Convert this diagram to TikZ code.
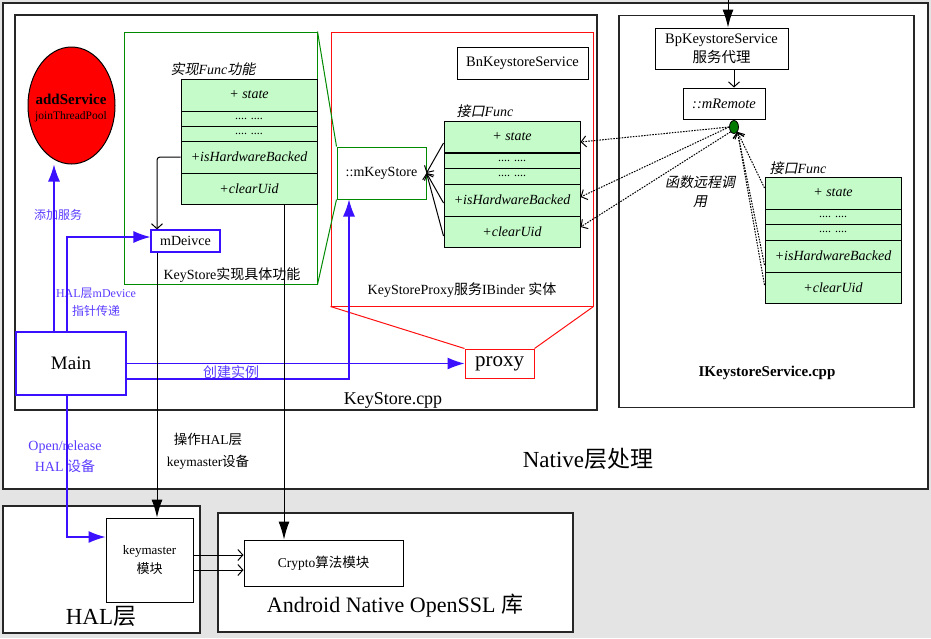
\documentclass[tikz,border=0pt]{standalone}
\usepackage{fontspec}
\setmainfont{Liberation Serif}
\newfontfamily\cjk{Noto Sans CJK SC}
\newfontfamily\cjkit[FakeSlant=0.2]{Noto Sans CJK SC}
\usetikzlibrary{arrows.meta,shapes.geometric}
\definecolor{bgray}{HTML}{E4E4E4}
\definecolor{tgreen}{HTML}{C4FBC8}
\definecolor{kgreen}{HTML}{008A00}
\definecolor{dgreen}{HTML}{007A00}
\definecolor{hblue}{HTML}{3A10FF}
\definecolor{tblue}{HTML}{5A3CFF}
\definecolor{rred}{HTML}{FF1010}
\newcommand{\fsz}[2]{\fontsize{#1}{#2}\selectfont}
\newcommand{\zhc}[1]{{\cjk #1}}
\newcommand{\zhi}[1]{{\cjkit #1}}
\begin{document}
\begin{tikzpicture}[x=1pt,y=-1pt,
  region/.style={draw=black!85, line width=1.2pt, fill=white, inner sep=0pt},
  box/.style={draw=black, line width=1pt, fill=white, inner sep=0pt},
  row/.style={draw=black, line width=1pt, fill=tgreen, inner sep=0pt, minimum width=136pt, font=\fsz{14}{16}\itshape},
  drow/.style={row, font=\fsz{12}{12}},
  lbl/.style={inner sep=0pt, align=center},
  blbl/.style={lbl, text=tblue},
  bline/.style={draw=hblue, line width=1.2pt},
  barrow/.style={bline, -{Latex[length=17pt,width=12pt]}},
  karrow/.style={draw=black, line width=1pt, -{Latex[length=18pt,width=11pt]}},
  oarrow/.style={draw=black, line width=1pt, -{Straight Barb[length=5pt,width=11pt]}},
  darrow/.style={draw=black, line width=1pt, dash pattern=on 1.6pt off 1.2pt, -{Straight Barb[length=5pt,width=11pt]}}
]
\useasboundingbox (0,0) rectangle (931,638);
\fill[bgray] (0,0) rectangle (931,638);

% region boxes
\node[region, minimum width=925pt, minimum height=486pt] (native) at (465.5,246) {};
\node[region, minimum width=582pt, minimum height=395pt] (kscpp) at (306,212.5) {};
\node[region, minimum width=295pt, minimum height=392pt] (iks) at (766.5,211.5) {};
\node[region, minimum width=197pt, minimum height=127pt] (hal) at (101.5,569.5) {};
\node[region, minimum width=355pt, minimum height=119pt] (ossl) at (395.5,572.5) {};

% green and red frames
\node[draw=kgreen, line width=1pt, inner sep=0pt, minimum width=193pt, minimum height=252pt] (gbox) at (220.5,158) {};
\node[draw=rred, line width=1pt, inner sep=0pt, minimum width=262pt, minimum height=274pt] (rbox) at (462,169) {};

% mKeyStore and proxy
\node[box, draw=kgreen, minimum width=89pt, minimum height=52pt, font=\fsz{14}{16}] (mks) at (381.5,173) {::mKeyStore};
\node[box, draw=rred, minimum width=69pt, minimum height=29pt, font=\fsz{21}{21}] (proxy) at (499.5,363.5) {proxy};
\draw[kgreen, line width=1pt] (gbox.north east) -- (mks.north west);
\draw[kgreen, line width=1pt] (gbox.south east) -- (mks.south west);
\draw[rred, line width=1pt] (rbox.south west) -- (proxy.north west);
\draw[rred, line width=1pt] (rbox.south east) -- (proxy.north east);

% addService
\node[ellipse, draw=black, line width=1pt, fill=red, minimum width=87pt, minimum height=117pt, inner sep=0pt, align=center] (add) at (71.5,105.5) {};
\node[lbl, font=\fsz{15}{15}\bfseries] (addt) at (71,99) {addService};
\node[lbl, font=\fsz{11.5}{12}] (jtp) at (71,117) {joinThreadPool};

% left table
\node[lbl, font=\fsz{14}{16}\itshape] (lcap) at (213,69) {\zhi{实现}Func\zhi{功能}};
\node[row, minimum height=32pt] (lstate) at (249,95) {+ state};
\node[drow, minimum height=15pt] (ld1) at (249,118.5) {.... ....};
\node[drow, minimum height=15pt] (ld2) at (249,133.5) {.... ....};
\node[row, minimum height=32pt] (lhw) at (249,157) {+isHardwareBacked};
\node[row, minimum height=31pt] (lcu) at (249,188.5) {+clearUid};

% middle table
\node[box, minimum width=131pt, minimum height=32pt, font=\fsz{14.5}{16}] (bn) at (522.5,63) {BnKeystoreService};
\node[lbl, font=\fsz{14}{16}\itshape] (mcap) at (485,111) {\zhi{接口}Func};
\node[row, minimum height=31pt] (mstate) at (512,136.5) {+ state};
\node[drow, minimum height=15pt] (md1) at (512,160.5) {.... ....};
\node[drow, minimum height=16pt] (md2) at (512,176) {.... ....};
\node[row, minimum height=32pt] (mhw) at (512,200) {+isHardwareBacked};
\node[row, minimum height=31pt] (mcu) at (512,231.5) {+clearUid};

% right side
\node[box, minimum width=133pt, minimum height=41pt, align=center, font=\fsz{14.5}{19}] (bp) at (721.5,48.5) {BpKeystoreService\\\zhc{服务代理}};
\node[box, minimum width=82pt, minimum height=31pt, font=\fsz{14.5}{16}\itshape] (mrem) at (724,103.5) {::mRemote};
\node[ellipse, draw=black, line width=0.8pt, fill=dgreen, minimum width=9pt, minimum height=13pt, inner sep=0pt] (dot) at (734,127) {};
\node[lbl, font=\fsz{14}{16}\itshape] (rcap) at (798,168) {\zhi{接口}Func};
\node[row, minimum height=32pt] (rstate) at (833,193) {+ state};
\node[drow, minimum height=15pt] (rd1) at (833,216.5) {.... ....};
\node[drow, minimum height=16pt] (rd2) at (833,232) {.... ....};
\node[row, minimum height=32pt] (rhw) at (833,256) {+isHardwareBacked};
\node[row, minimum height=31pt] (rcu) at (833,287.5) {+clearUid};
\node[lbl, font=\fsz{14}{19}] (rcall) at (700,192) {\zhi{函数远程调}\\\zhi{用}};
\coordinate (topin) at (728,0);

% main, mDeivce, keymaster, crypto
\node[box, draw=hblue, line width=1.2pt, minimum width=110pt, minimum height=63pt, font=\fsz{19}{19}] (main) at (71,363.5) {Main};
\node[box, draw=hblue, line width=1.2pt, minimum width=69pt, minimum height=22pt, font=\fsz{14}{16}] (mdev) at (185.5,241) {mDeivce};
\node[box, minimum width=87pt, minimum height=84pt, align=center, font=\fsz{13}{19}] (km) at (149.5,560) {keymaster\\\zhc{模块}};
\node[box, minimum width=159pt, minimum height=46pt, font=\fsz{13.5}{16}] (crypto) at (323.5,563) {Crypto\zhc{算法模块}};

% text labels
\node[lbl, font=\fsz{14}{16}] at (232,275) {KeyStore\zhc{实现具体功能}};
\node[lbl, font=\fsz{14}{16}] at (462,290) {KeyStoreProxy\zhc{服务}IBinder \zhc{实体}};
\node[lbl, font=\fsz{18}{18}] at (393,400) {KeyStore.cpp};
\node[lbl, font=\fsz{15}{15}\bfseries] at (767,373) {IKeystoreService.cpp};
\node[lbl, font=\fsz{23}{23}] at (588,459) {Native\zhc{层处理}};
\node[lbl, font=\fsz{23}{23}] at (101,616) {HAL\zhc{层}};
\node[lbl, font=\fsz{22}{22}] at (395,606) {Android Native OpenSSL \zhc{库}};
\node[lbl, font=\fsz{13.5}{22}] at (208,451) {\zhc{操作}HAL\zhc{层}\\keymaster\zhc{设备}};
\node[blbl, font=\fsz{14}{21}] at (65,457) {Open/release\\HAL \zhc{设备}};
\node[blbl, font=\fsz{14}{16}] at (231,372) {\zhc{创建实例}};
\node[blbl, font=\fsz{12}{18}] at (96,302) {HAL\zhc{层}mDevice\\\zhc{指针传递}};
\node[blbl, font=\fsz{12}{14}] at (58,215) {\zhc{添加服务}};

% blue connectors
\draw[barrow] ([xshift=-17pt]main.north) -- ([xshift=-17pt]main.north |- add.south);
\draw[barrow] ([xshift=-4pt]main.north) |- ([yshift=4pt]mdev.west);
\draw[barrow] (main.east) -- (proxy.west);
\draw[barrow] ([yshift=-15.5pt]main.east) -| ([xshift=-32.5pt]mks.south);
\draw[barrow] ([xshift=-4pt]main.south) |- ([yshift=23pt]km.west);

% black connectors
\draw[oarrow, rounded corners=3pt] (lhw.west) -| ([xshift=-28.5pt]mdev.north);
\draw[karrow] ([xshift=-28.5pt]mdev.south) -- ([xshift=-28.5pt]mdev.south |- km.north);
\draw[karrow] ([xshift=35pt]lcu.south) -- ([xshift=35pt]lcu.south |- crypto.north);
\draw[oarrow] ([yshift=5pt]km.east) -- ([yshift=5pt]km.east -| crypto.west);
\draw[oarrow] ([yshift=-10pt]km.east) -- ([yshift=-10pt]km.east -| crypto.west);
\draw[karrow] (topin) -- (topin |- bp.north);
\draw[oarrow] ([xshift=12.5pt]bp.south) -- ([xshift=12.5pt]bp.south |- mrem.north);

% interface -> mKeyStore
\draw[oarrow] ([yshift=-6.5pt]mstate.west) -- (mks.east);
\draw[oarrow] ([yshift=-3pt]mhw.west) -- (mks.east);
\draw[oarrow] ([yshift=-4.5pt]mcu.west) -- (mks.east);

% remote calls (dotted)
\draw[darrow] (dot.west) -- ([yshift=-5.5pt]mstate.east);
\draw[darrow] (dot.west) -- ([yshift=3pt]mhw.east);
\draw[darrow] (dot.south west) -- ([yshift=4.5pt]mcu.east);
\draw[darrow] ([yshift=5pt]rstate.west) -- (dot.south east);
\draw[darrow] ([yshift=-9pt]rhw.west) -- (dot.south east);
\draw[darrow] ([yshift=2.5pt]rcu.west) -- (dot.south east);
\end{tikzpicture}
\end{document}
